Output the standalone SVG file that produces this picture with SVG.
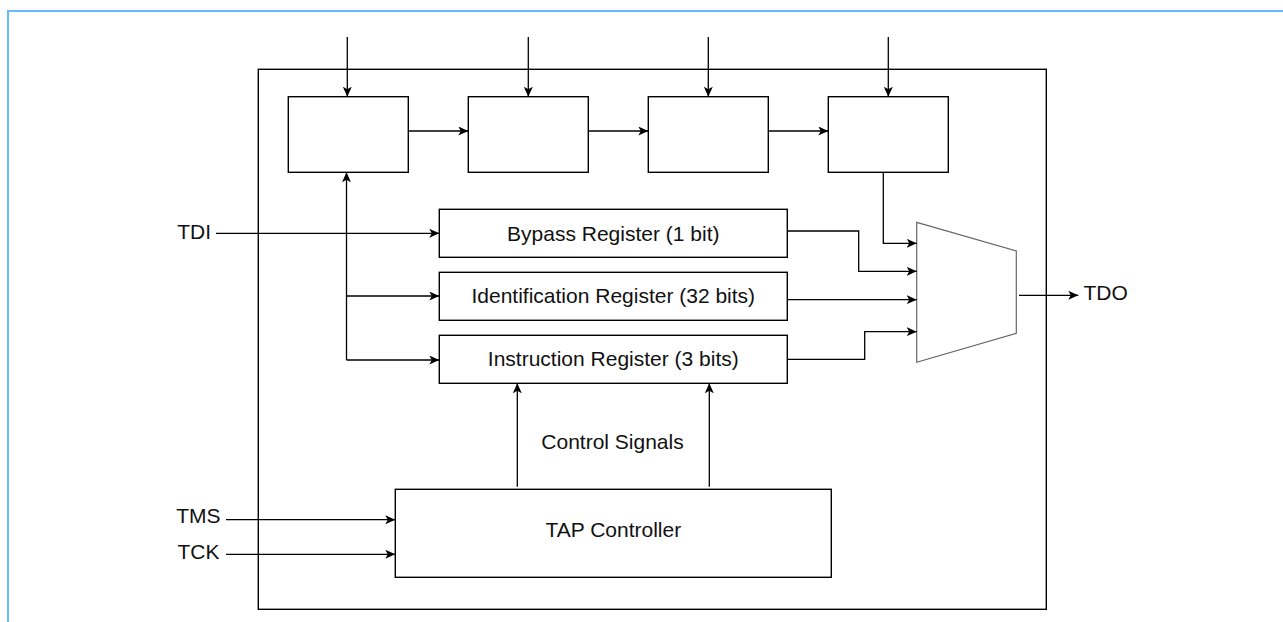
<svg xmlns="http://www.w3.org/2000/svg" width="1283" height="622" viewBox="0 0 1283 622">
<style>
.box{fill:#fff;stroke:#000;stroke-width:1.4}
.ln{fill:none;stroke:#000;stroke-width:1.3}
.t{font-family:"Liberation Sans",Arial,sans-serif;font-size:21px;fill:#111}
.c{text-anchor:middle}
.e{text-anchor:end}
</style>
<defs>
<marker id="ah" markerUnits="userSpaceOnUse" markerWidth="11" markerHeight="10" refX="10" refY="4.5" orient="auto">
<path d="M0,0 L10,4.5 L0,9 L2.5,4.5 Z" fill="#000"/>
</marker>
</defs>
<rect width="1283" height="622" fill="#fff"/>
<path d="M8,622 V11 H1283" fill="none" stroke="#66bbfa" stroke-width="2"/>
<g id="chip"><rect class="box" x="258.3" y="69.3" width="788" height="540" fill="none"/></g>
<g id="cell1"><rect class="box" x="288.3" y="96.7" width="120" height="75.6"/></g>
<g id="cell2"><rect class="box" x="468.3" y="96.7" width="120" height="75.6"/></g>
<g id="cell3"><rect class="box" x="648.3" y="96.7" width="120" height="75.6"/></g>
<g id="cell4"><rect class="box" x="828.3" y="96.7" width="120" height="75.6"/></g>
<g id="bypass"><rect class="box" x="439.3" y="209.3" width="348" height="48"/><text class="t c" x="613.3" y="240.5">Bypass Register (1 bit)</text></g>
<g id="idreg"><rect class="box" x="439.3" y="272.3" width="348" height="48"/><text class="t c" x="613.3" y="303.3">Identification Register (32 bits)</text></g>
<g id="instr"><rect class="box" x="439.3" y="335.3" width="348" height="48"/><text class="t c" x="613.3" y="366.3">Instruction Register (3 bits)</text></g>
<g id="tap"><rect class="box" x="395.3" y="489.3" width="436" height="88"/><text class="t c" x="613.3" y="537.3">TAP Controller</text></g>
<g id="mux"><polygon points="916.7,222.3 1016.3,251 1016.3,333.3 916.7,362.3" fill="#fff" stroke="#666" stroke-width="1.2"/></g>
<g id="labels">
<text class="t e" x="211" y="239">TDI</text>
<text class="t e" x="220.5" y="523.3">TMS</text>
<text class="t e" x="219.5" y="559">TCK</text>
<text class="t" x="1083.5" y="300">TDO</text>
<text class="t c" x="612.5" y="449">Control Signals</text>
</g>
<g id="connectors">
<path class="ln" d="M347.3,37 V96.7" marker-end="url(#ah)"/>
<path class="ln" d="M528.3,37 V96.7" marker-end="url(#ah)"/>
<path class="ln" d="M708.3,37 V96.7" marker-end="url(#ah)"/>
<path class="ln" d="M888.3,37 V96.7" marker-end="url(#ah)"/>
<path class="ln" d="M408.3,131 H468.3" marker-end="url(#ah)"/>
<path class="ln" d="M588.3,131 H648.3" marker-end="url(#ah)"/>
<path class="ln" d="M768.3,131 H828.3" marker-end="url(#ah)"/>
<path class="ln" d="M216,233.3 H439.3" marker-end="url(#ah)"/>
<path class="ln" d="M346.5,360 V172.3" marker-end="url(#ah)"/>
<path class="ln" d="M346.5,296 H439.3" marker-end="url(#ah)"/>
<path class="ln" d="M346.5,360 H439.3" marker-end="url(#ah)"/>
<path class="ln" d="M883.3,172.3 V243.3 H916.7" marker-end="url(#ah)"/>
<path class="ln" d="M787.3,231 H858.7 V271.3 H916.7" marker-end="url(#ah)"/>
<path class="ln" d="M787.3,299.7 H916.7" marker-end="url(#ah)"/>
<path class="ln" d="M787.3,359.3 H864.7 V331.7 H916.7" marker-end="url(#ah)"/>
<path class="ln" d="M1019,295.3 H1078.3" marker-end="url(#ah)"/>
<path class="ln" d="M517.3,486.7 V383.3" marker-end="url(#ah)"/>
<path class="ln" d="M709.3,486.7 V383.3" marker-end="url(#ah)"/>
<path class="ln" d="M226,519.7 H395.3" marker-end="url(#ah)"/>
<path class="ln" d="M226,554.3 H395.3" marker-end="url(#ah)"/>
</g>
</svg>
